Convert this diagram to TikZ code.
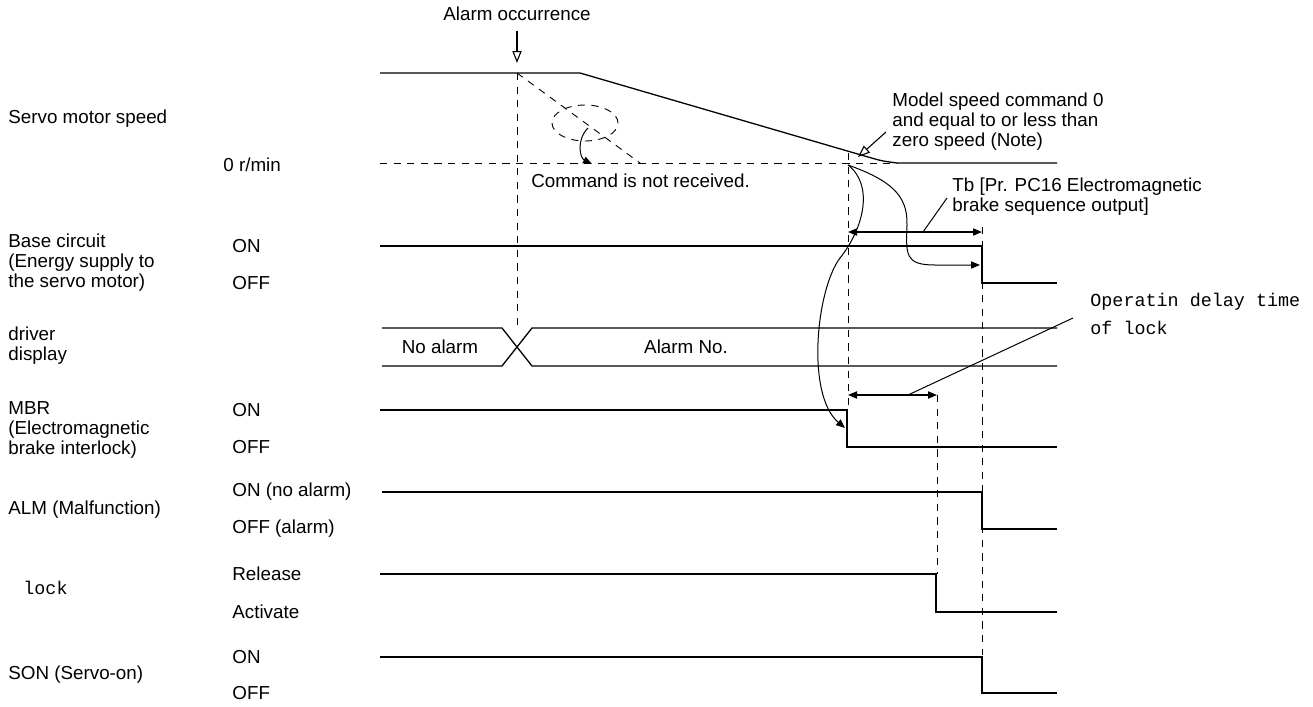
\documentclass[tikz,border=0pt]{standalone}
\usepackage{fontspec}
\setmainfont{Liberation Sans}
\setmonofont{Liberation Mono}
\usetikzlibrary{arrows.meta, shapes.geometric}

\begin{document}
\begin{tikzpicture}[
    x=0.5pt, y=-0.5pt,
    sig/.style={line width=0.65pt, black},
    dashline/.style={line width=0.45pt, dash pattern=on 3.6pt off 3.2pt},
    lbl/.style={anchor=west, inner sep=0pt, align=left,
        font=\fontsize{9.4}{10}\selectfont},
    mono/.style={lbl, font=\ttfamily\fontsize{9.2}{14}\selectfont},
    arr/.style={-{Triangle[length=4.5pt, width=3.6pt]}, line width=0.5pt},
    openarr/.style={-{Triangle[open, length=6pt, width=4.6pt]}, line width=0.55pt},
    biarr/.style={{Triangle[length=4.5pt, width=3.6pt]}-{Triangle[length=4.5pt, width=3.6pt]}, line width=0.6pt},
    lead/.style={line width=0.5pt},
]

\useasboundingbox (0,0) rectangle (1313,707);

%% ---- LEFT LABELS ----
\node[lbl] (speedlbl) at (8,119)  {Servo motor speed};
\node[lbl] (zerolbl)  at (223,165) {0 r/min};
\node[lbl] (baselbl)  at (8,263)  {Base circuit\\(Energy supply to\\the servo motor)};
\node[lbl] (baseon)   at (232,246) {ON};
\node[lbl] (baseoff)  at (232,283) {OFF};
\node[lbl] (displbl)  at (8,346)  {driver\\display};
\node[lbl] (mbrlbl)   at (8,430)  {MBR\\(Electromagnetic\\brake interlock)};
\node[lbl] (mbron)    at (232,410) {ON};
\node[lbl] (mbroff)   at (232,447) {OFF};
\node[lbl] (almlbl)   at (8,510)  {ALM (Malfunction)};
\node[lbl] (almon)    at (232,492) {ON (no alarm)};
\node[lbl] (almoff)   at (232,529) {OFF (alarm)};
\node[mono] (locklbl) at (23,588) {lock};
\node[lbl] (lockrel)  at (232,574) {Release};
\node[lbl] (lockact)  at (232,612) {Activate};
\node[lbl] (sonlbl)   at (8,675)  {SON (Servo-on)};
\node[lbl] (sonon)    at (232,657) {ON};
\node[lbl] (sonoff)   at (232,693) {OFF};

%% ---- ALARM OCCURRENCE ----
\node[lbl, anchor=center] (alarmlbl) at (517,14) {Alarm occurrence};
\coordinate (alarmtip) at (517,63);
\draw[openarr] ([yshift=-5pt]alarmlbl.south) -- (alarmtip);

%% ---- SERVO MOTOR SPEED ----
\draw[sig] (380,73) -- (580,73) -- (868,157) .. controls (882,161) .. (897,163) -- (1057,163);
\draw[dashline] (380,163) -- (897,163);
\draw[dashline] (517,73) -- (640,163);
\node[dashline, draw, ellipse, minimum width=33pt, minimum height=18pt, inner sep=0pt] (cmdring) at (585,123) {};
\coordinate (cmdtip) at (592,164);
\draw[arr] (588,128) .. controls (576,140) and (580,158) .. (cmdtip);
\node[lbl] (cmdlbl) at (531,181) {Command is not received.};

%% ---- MODEL SPEED NOTE ----
\node[lbl] (notelbl) at (892,122) {Model speed command 0\\and equal to or less than\\zero speed (Note)};
\coordinate (notetip) at (858,157);
\draw[openarr] ([xshift=-3pt, yshift=-5pt]notelbl.west) -- (notetip);

%% ---- GUIDE LINES ----
\draw[dashline] (517,73)  -- (517,326);
\draw[dashline] (848,153) -- (848,410);
\draw[dashline] (982,227) -- (982,655);
\draw[dashline] (937,395) -- (937,574);

%% ---- BASE CIRCUIT ----
\draw[sig] (380,246) -- (982,246) -- (982,283) -- (1057,283);

%% ---- DRIVER DISPLAY ----
\draw[sig] (382,328) -- (502,328) -- (532,366) -- (1057,366);
\draw[sig] (382,366) -- (502,366) -- (532,328) -- (1057,328);
\node[lbl, anchor=center] (noalarm) at (440,347) {No alarm};
\node[lbl, anchor=center] (alarmno) at (686,347) {Alarm No.};

%% ---- MBR ----
\draw[sig] (380,410) -- (847,410) -- (847,447) -- (1057,447);

%% ---- ALM ----
\draw[sig] (382,492) -- (982,492) -- (982,529) -- (1057,529);

%% ---- LOCK ----
\draw[sig] (380,574) -- (936,574) -- (936,612) -- (1057,612);

%% ---- SON ----
\draw[sig] (380,657) -- (982,657) -- (982,693) -- (1057,693);

%% ---- TIMING ARROWS ----
\coordinate (tbl) at (848,232);
\coordinate (tbr) at (982,232);
\draw[biarr] (tbl) -- (tbr);
\node[lbl] (tblbl) at (952,197) {Tb [Pr. PC16 Electromagnetic\\brake sequence output]};
\draw[lead] (923,232) -- (947,198);

\coordinate (dlyl) at (848,395);
\coordinate (dlyr) at (937,395);
\draw[biarr] (dlyl) -- (dlyr);
\node[mono] (dlylbl) at (1090,314) {Operatin delay time\\of lock};
\draw[lead] (908,395) -- (1073,318);

%% ---- CAUSE ARROWS ----
\coordinate (zerohit) at (848,165);
\coordinate (mbrtip)  at (845,428);
\coordinate (basetip) at (980,265);
\draw[arr] (zerohit) .. controls (874,185) and (864,228) .. (840,258)
    .. controls (816,290) and (806,395) .. (mbrtip);
\draw[arr] (zerohit) .. controls (890,180) and (908,195) .. (907,225)
    .. controls (906,255) and (905,265) .. (935,265) -- (basetip);

\end{tikzpicture}
\end{document}
